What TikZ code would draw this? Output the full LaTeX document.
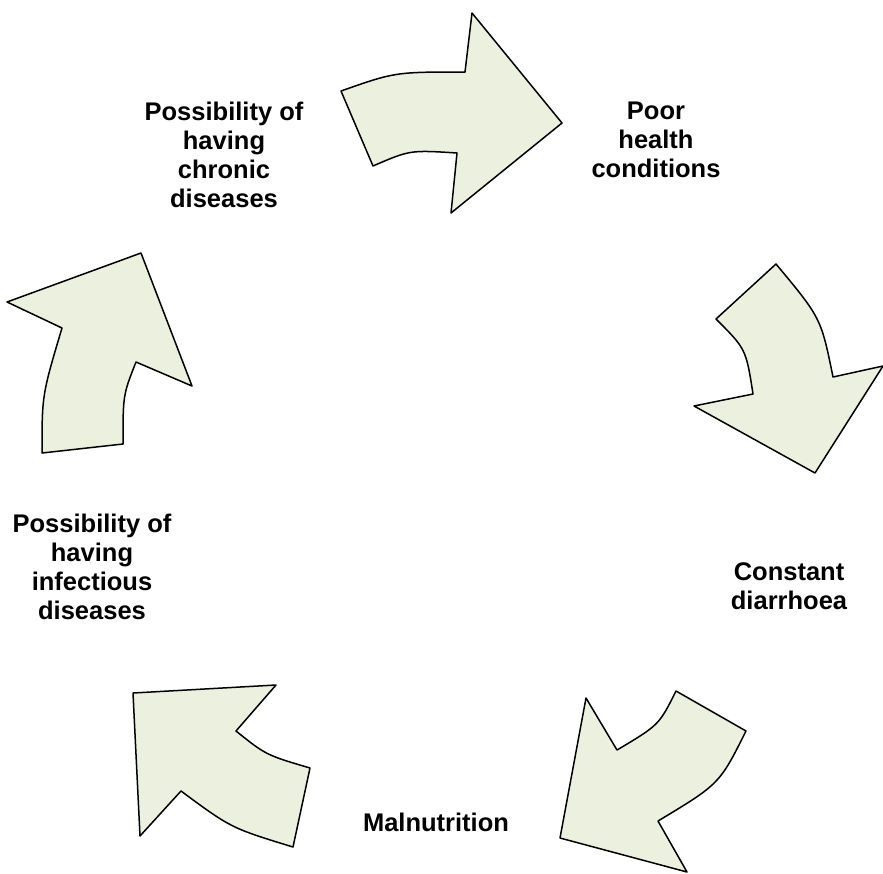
\documentclass[tikz,border=0pt]{standalone}
\usepackage{fontspec}
\setmainfont{Liberation Sans}
\definecolor{arrowfill}{RGB}{235,241,222}
\begin{document}
\begin{tikzpicture}[x=1pt,y=-1pt,
  cyclearrow/.style={draw=black,fill=arrowfill,line width=1.5pt,line join=round},
  lbl/.style={align=center,font=\bfseries\fontsize{25.5}{29}\selectfont,inner sep=0pt,anchor=base}]
\useasboundingbox[fill=white] (0,0) rectangle (883,873);
% arrow 1 (top)
\draw[cyclearrow] (341,91) .. controls (395,72) .. (465,72) -- (472,13) -- (562,123) -- (451,213) -- (457,153) .. controls (410,150) .. (373,166) -- cycle;
% arrow 2 (right)
\draw[cyclearrow] (776,264) -- (716,319) .. controls (746,349) .. (753,394) -- (694,406) -- (815,473) -- (883,366) -- (833,377) .. controls (821,318) .. cycle;
% arrow 3 (bottom right)
\draw[cyclearrow] (676,691) -- (746,731) .. controls (719.5,784) .. (658,821) -- (687,872) -- (560,838) -- (586,698) -- (617,750) .. controls (659,725) .. cycle;
% arrow 4 (bottom left)
\draw[cyclearrow] (276,685) -- (133,693) -- (140,836) -- (181,791) .. controls (231,828) .. (293,847) -- (310,768) .. controls (266,755) .. (236,731) -- cycle;
% arrow 5 (left)
\draw[cyclearrow] (141,253) -- (192,386) -- (136,362) .. controls (123,395) .. (123,444) -- (42,453) .. controls (42,395) .. (62,328) -- (7,302) -- cycle;
% labels (anchor = baseline of last line)
\node[lbl] (chronic) at (224,207) {Possibility of\\having\\chronic\\diseases};
\node[lbl] (poor) at (656,177) {Poor\\health\\conditions};
\node[lbl] (diarr) at (789,609) {Constant\\diarrhoea};
\node[lbl] (maln) at (436,831) {Malnutrition};
\node[lbl] (infect) at (92,619) {Possibility of\\having\\infectious\\diseases};
\end{tikzpicture}
\end{document}
